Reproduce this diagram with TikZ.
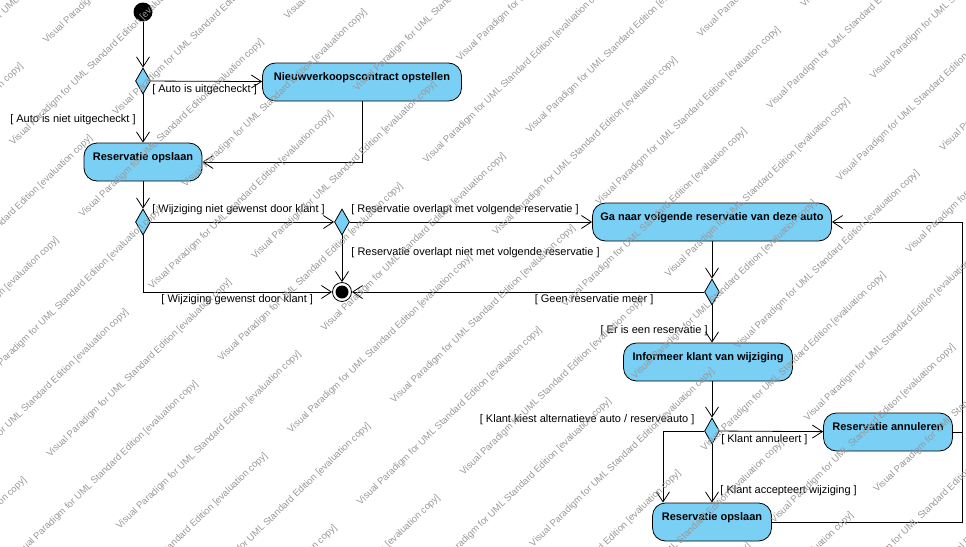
\documentclass[tikz,border=0pt]{standalone}
\usepackage{fontspec}
\setmainfont{Liberation Sans}
\usetikzlibrary{arrows.meta,shapes.geometric}
\definecolor{vpblue}{RGB}{122,207,245}
\newcommand{\wm}{Visual Paradigm for UML Standard Edition [evaluation copy]}
\begin{document}
\begin{tikzpicture}[x=1pt,y=-1pt,line width=0.8pt,font=\fontsize{11}{13}\selectfont]
\tikzstyle{act}=[draw,fill=vpblue,rounded corners=13pt,minimum height=38pt,text height=8pt,text depth=12pt,font=\fontsize{11}{13}\selectfont\bfseries]
\tikzstyle{dec}=[draw,fill=vpblue,diamond,minimum width=15pt,minimum height=26pt,inner sep=0pt]
\tikzstyle{flow}=[-{Straight Barb[length=10pt,width=13pt]}]
\tikzstyle{guard}=[inner sep=1pt]
\tikzstyle{wmark}=[anchor=base west,rotate=44,inner sep=0pt,text=black!40,font=\fontsize{9.5}{11}\selectfont]
\useasboundingbox (0,0) rectangle (966,546);
\node[circle,fill,minimum size=19pt,inner sep=0pt] (s) at (143,12) {};
\node[dec] (d1) at (143,81) {};
\node[act,minimum width=199pt] (nieuw) at (362,82) {Nieuwverkoopscontract opstellen};
\node[act,minimum width=118pt] (res1) at (143,162) {Reservatie opslaan};
\node[dec] (d2) at (143,222) {};
\node[dec] (d3) at (342,222) {};
\node[circle,draw,fill=white,minimum size=19pt,inner sep=0pt] (f) at (342,292) {};
\fill (f) circle (6.5pt);
\node[act,minimum width=239pt] (ga) at (712,222) {Ga naar volgende reservatie van deze auto};
\node[dec] (d4) at (712,292) {};
\node[act,minimum width=169pt] (inf) at (708,362) {Informeer klant van wijziging};
\node[dec] (d5) at (712,431) {};
\node[act,minimum width=129pt] (ann) at (888,432) {Reservatie annuleren};
\node[act,minimum width=119pt] (res2) at (712,522) {Reservatie opslaan};
\coordinate (rt) at (962,522);
% flows
\draw[flow] (s) -- (d1);
\draw[flow] (d1) -- (nieuw) node[guard,pos=0,anchor=west,yshift=-9pt] {[ Auto is uitgecheckt ]};
\draw[flow] (d1) -- (res1) node[guard,pos=0.53,anchor=east,xshift=-6pt] {[ Auto is niet uitgecheckt ]};
\draw[flow] (nieuw) |- (res1);
\draw[flow] (res1) -- (d2);
\draw[flow] (d2) -- (d3) node[guard,pos=0,anchor=west,yshift=12pt] {[ Wijziging niet gewenst door klant ]};
\draw[flow] (d2) |- (f) node[guard,pos=0.545,anchor=west,yshift=-8pt] {[ Wijziging gewenst door klant ]};
\draw[flow] (d3) -- (ga) node[guard,pos=0,anchor=west,yshift=12pt] {[ Reservatie overlapt met volgende reservatie ]};
\draw[flow] (d3) -- (f) node[guard,pos=0.36,anchor=west,xshift=8pt] {[ Reservatie overlapt niet met volgende reservatie ]};
\draw[flow] (ga) -- (d4);
\draw[flow] (d4) -- (f) node[guard,pos=0.14,anchor=east,yshift=-8pt] {[ Geen reservatie meer ]};
\draw[flow] (d4) -- (d4 |- inf.north) node[guard,pos=0.68,anchor=east,xshift=-3pt] {[ Er is een reservatie ]};
\draw[flow] (d5 |- inf.south) -- (d5);
\draw[flow] (d5) -- (ann) node[guard,pos=0,anchor=west,yshift=-9pt] {[ Klant annuleert ]};
\draw[flow] (d5) -| ([xshift=-49pt]res2.north) node[guard,pos=0.1,anchor=east,yshift=11pt] {[ Klant kiest alternatieve auto / reserveauto ]};
\draw[flow] (d5) -- (res2) node[guard,pos=0.8,anchor=west,xshift=7pt] {[ Klant accepteert wijziging ]};
\draw[flow] (res2) -- (rt) |- (ga);
\draw (ann) -- (ann -| rt);
% watermark
\begin{scope}
\clip (0,0) rectangle (966,546);
\foreach \k in {-8,...,14}
  \foreach \m in {-2,...,4}{
    \pgfmathsetmacro\al{285*\m+190*mod(\k+20,2)}
    \pgfmathsetmacro\pe{50*\k}
    \pgfmathsetmacro\sx{50+0.719*\al+0.695*\pe}
    \pgfmathsetmacro\sy{458-0.695*\al+0.719*\pe}
    \pgfmathtruncatemacro\ok{and(and(\sx>-184,\sx<966),and(\sy>0,\sy<723))}
    \ifnum\ok=1 \node[wmark] at (\sx,\sy) {\wm};\fi
  }
\end{scope}
\end{tikzpicture}
\end{document}
